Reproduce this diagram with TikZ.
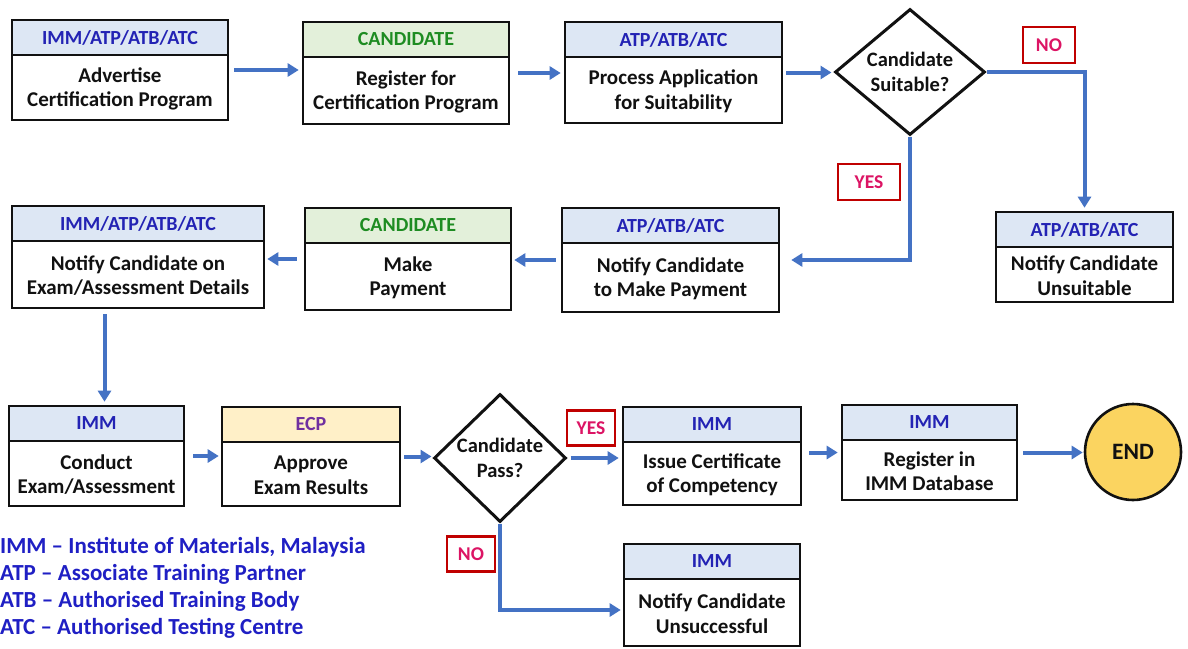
\documentclass[tikz,border=0pt]{standalone}
\usepackage{fontspec}
\setmainfont{Carlito}
\usepackage{tikz}
\usetikzlibrary{arrows.meta,positioning,calc,shapes.geometric}
\definecolor{ink}     {HTML}{111111}
\definecolor{flowblue}{HTML}{4472C4}
\definecolor{headbg}  {HTML}{DDE7F4}
\definecolor{headink} {HTML}{2323B4}
\definecolor{candbg}  {HTML}{E3F0DA}
\definecolor{candink} {HTML}{1E8C22}
\definecolor{ecpbg}   {HTML}{FFF0C8}
\definecolor{ecpink}  {HTML}{7030A0}
\definecolor{tagline} {HTML}{C00000}
\definecolor{tagink}  {HTML}{DC1464}
\definecolor{endbg}   {HTML}{FBD460}
\definecolor{keyink}  {HTML}{1F1FC4}
\tikzset{
  stepframe/.style={
    rectangle, draw=ink, line width=2.6pt, inner sep=0pt
  },
  stephead/.style={
    rectangle, draw=ink, line width=2.6pt, fill=headbg, text=headink,
    font=\fontsize{20}{24}\selectfont\bfseries, minimum height=35pt, inner sep=0pt
  },
  stepheadcand/.style={stephead, fill=candbg, text=candink},
  stepheadecp/.style={stephead, fill=ecpbg, text=ecpink},
  steptext/.style={
    text=ink, font=\fontsize{21}{24.5}\selectfont\bfseries, align=center, inner sep=0pt
  },
  decision/.style={
    diamond, draw=ink, line width=3pt, fill=white, text=ink,
    font=\fontsize{20.5}{25}\selectfont\bfseries, align=center, inner sep=0pt
  },
  yesno/.style={
    rectangle, draw=tagline, line width=2.8pt, text=tagink,
    font=\fontsize{19.5}{22}\selectfont\bfseries, minimum height=35pt, inner sep=0pt
  },
  flowarrow/.style={
    -{Triangle[length=11pt, width=13pt]}, line width=4pt, draw=flowblue,
    shorten <=5pt, shorten >=3pt
  },
  endnode/.style={
    circle, draw=ink, line width=2.6pt, fill=endbg, text=ink,
    minimum size=96pt, font=\fontsize{23.5}{27}\selectfont\bfseries
  },
  keytext/.style={text=keyink, font=\fontsize{23}{27}\selectfont\bfseries, inner sep=0pt, anchor=base west}
}

\begin{document}
\begin{tikzpicture}[x=1pt, y=-1pt]
  \fill[white] (0,0) rectangle (1188,648);
  \useasboundingbox (0,0) rectangle (1188,648);

  % row 1
  \node[stepframe, minimum width=216pt, minimum height=100pt] (advert) at (120,70) {};
  \node[stephead, minimum width=216pt, below=0pt of advert.north] (advert-h) {IMM/ATP/ATB/ATC};
  \node[steptext] (advert-t) at ($(advert-h.south)!.5!(advert.south)$) {Advertise\\Certification Program};

  \node[stepframe, minimum width=206pt, minimum height=102pt] (regist) at (406,73) {};
  \node[stepheadcand, minimum width=206pt, below=0pt of regist.north] (regist-h) {CANDIDATE};
  \node[steptext] (regist-t) at ($(regist-h.south)!.5!(regist.south)$) {Register for\\Certification Program};

  \node[stepframe, minimum width=217pt, minimum height=101pt] (process) at (673.5,72.5) {};
  \node[stephead, minimum width=217pt, below=0pt of process.north] (process-h) {ATP/ATB/ATC};
  \node[steptext] (process-t) at ($(process-h.south)!.5!(process.south)$) {Process Application\\for Suitability};

  \node[decision, minimum width=150pt, minimum height=126pt] (suit) at (910,72) {Candidate\\Suitable?};

  \node[stepframe, minimum width=177pt, minimum height=90pt] (unsuit) at (1084.5,257) {};
  \node[stephead, minimum width=177pt, below=0pt of unsuit.north] (unsuit-h) {ATP/ATB/ATC};
  \node[steptext] (unsuit-t) at ($(unsuit-h.south)!.5!(unsuit.south)$) {Notify Candidate\\Unsuitable};

  % row 2
  \node[stepframe, minimum width=217pt, minimum height=104pt] (paynote) at (670.5,260) {};
  \node[stephead, minimum width=217pt, below=0pt of paynote.north] (paynote-h) {ATP/ATB/ATC};
  \node[steptext] (paynote-t) at ($(paynote-h.south)!.5!(paynote.south)$) {Notify Candidate\\to Make Payment};

  \node[stepframe, minimum width=206pt, minimum height=102pt] (payment) at (408,259) {};
  \node[stepheadcand, minimum width=206pt, below=0pt of payment.north] (payment-h) {CANDIDATE};
  \node[steptext] (payment-t) at ($(payment-h.south)!.5!(payment.south)$) {Make\\Payment};

  \node[stepframe, minimum width=252pt, minimum height=102pt] (examnote) at (138,257) {};
  \node[stephead, minimum width=252pt, below=0pt of examnote.north] (examnote-h) {IMM/ATP/ATB/ATC};
  \node[steptext] (examnote-t) at ($(examnote-h.south)!.5!(examnote.south)$) {Notify Candidate on\\Exam/Assessment Details};

  % row 3
  \node[stepframe, minimum width=175pt, minimum height=100pt] (conduct) at (96.5,456) {};
  \node[stephead, minimum width=175pt, below=0pt of conduct.north] (conduct-h) {IMM};
  \node[steptext] (conduct-t) at ($(conduct-h.south)!.5!(conduct.south)$) {Conduct\\Exam/Assessment};

  \node[stepframe, minimum width=178pt, minimum height=99pt] (approve) at (311,456.5) {};
  \node[stepheadecp, minimum width=178pt, below=0pt of approve.north] (approve-h) {ECP};
  \node[steptext] (approve-t) at ($(approve-h.south)!.5!(approve.south)$) {Approve\\Exam Results};

  \node[decision, minimum width=132pt, minimum height=128pt] (pass) at (500,458) {Candidate\\Pass?};

  \node[stepframe, minimum width=178pt, minimum height=98pt] (issue) at (712,456) {};
  \node[stephead, minimum width=178pt, below=0pt of issue.north] (issue-h) {IMM};
  \node[steptext] (issue-t) at ($(issue-h.south)!.5!(issue.south)$) {Issue Certificate\\of Competency};

  \node[stepframe, minimum width=175pt, minimum height=95pt] (dbreg) at (929.5,452.5) {};
  \node[stephead, minimum width=175pt, below=0pt of dbreg.north] (dbreg-h) {IMM};
  \node[steptext] (dbreg-t) at ($(dbreg-h.south)!.5!(dbreg.south)$) {Register in\\IMM Database};

  \node[endnode] (finish) at (1133,452) {END};

  \node[stepframe, minimum width=176pt, minimum height=102pt] (unsucc) at (712,595) {};
  \node[stephead, minimum width=176pt, below=0pt of unsucc.north] (unsucc-h) {IMM};
  \node[steptext] (unsucc-t) at ($(unsucc-h.south)!.5!(unsucc.south)$) {Notify Candidate\\Unsuccessful};

  % yes / no tags
  \node[yesno, minimum width=52pt, minimum height=36pt] (no-suit) at (1049,45) {NO};
  \node[yesno, minimum width=62pt, minimum height=36pt] (yes-suit) at (869,182) {YES};
  \node[yesno, minimum width=48pt] (yes-pass) at (591,428) {YES};
  \node[yesno, minimum width=48pt] (no-pass) at (471,554) {NO};

  % connectors
  \draw[flowarrow] (advert.east) -- (advert.east -| regist.west);
  \draw[flowarrow, shorten <=8pt] (regist.east) -- (regist.east -| process.west);
  \draw[flowarrow, shorten <=3pt, shorten >=2pt] (process.east) -- (process.east -| suit.west);
  \draw[flowarrow, shorten <=0pt] (suit.east) -| (unsuit.north);
  \draw[flowarrow, shorten <=0pt, shorten >=11pt] (suit.south) |- (paynote.east);
  \draw[flowarrow, shorten >=2pt] (paynote.west) -- (paynote.west -| payment.east);
  \draw[flowarrow, shorten <=7pt, shorten >=2pt] (payment.west) -- (payment.west -| examnote.east);
  \draw[flowarrow] ([xshift=8pt]conduct.north |- examnote.south) -- ([xshift=8pt]conduct.north);
  \draw[flowarrow, shorten <=8pt, shorten >=2pt] (conduct.east) -- (conduct.east -| approve.west);
  \draw[flowarrow, shorten <=3pt, shorten >=1pt] (approve.east) -- (approve.east -| pass.west);
  \draw[flowarrow, shorten <=3pt] (pass.east) -- (pass.east -| issue.west);
  \draw[flowarrow, shorten <=7pt] (issue.east |- dbreg.east) -- (dbreg.west);
  \draw[flowarrow, shorten >=1pt] (dbreg.east) -- (dbreg.east -| finish.west);
  \draw[flowarrow, shorten <=0pt, shorten >=2pt] (pass.south) |- ([yshift=-15pt]unsucc.west);

  % key
  \foreach \abbr/\full [count=\i] in {IMM/{Institute of Materials, Malaysia},
      ATP/{Associate Training Partner}, ATB/{Authorised Training Body},
      ATC/{Authorised Testing Centre}}
    \node[keytext] (key-\i) at (0,525.7+27.3*\i) {\abbr\ – \full};
\end{tikzpicture}
\end{document}
